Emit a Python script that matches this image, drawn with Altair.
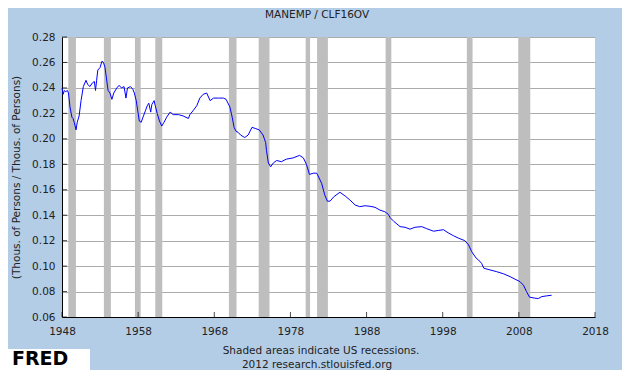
import altair as alt
import pandas as pd

years = [1948.00, 1948.15, 1948.30, 1948.50, 1948.70, 1948.85, 1949.05, 1949.30, 1949.45, 1949.60,
         1949.85, 1950.00, 1950.25, 1950.50, 1950.80, 1951.15, 1951.35, 1951.65, 1952.00, 1952.25,
         1952.40, 1952.55, 1952.70, 1953.00, 1953.25, 1953.45, 1953.65, 1953.85, 1954.05, 1954.30,
         1954.55, 1954.80, 1955.20, 1955.50, 1955.80, 1956.15, 1956.40, 1956.60, 1957.00, 1957.30,
         1957.50, 1957.75, 1957.95, 1958.15, 1958.40, 1958.70, 1958.95, 1959.20, 1959.40, 1959.65,
         1959.80, 1960.10, 1960.25, 1960.50, 1960.80, 1961.10, 1961.40, 1961.75, 1962.20, 1962.60,
         1963.30, 1963.90, 1964.60, 1964.80, 1965.20, 1965.70, 1966.10, 1966.55, 1967.00, 1967.45,
         1967.90, 1968.55, 1969.20, 1969.55, 1970.05, 1970.35, 1970.60, 1970.85, 1971.15, 1971.45,
         1972.00, 1972.45, 1972.95, 1973.45, 1973.90, 1974.40, 1974.75, 1974.85, 1975.10, 1975.40,
         1975.75, 1976.20, 1976.80, 1977.45, 1978.35, 1979.20, 1979.70, 1980.10, 1980.50, 1981.00,
         1981.45, 1981.70, 1982.10, 1982.50, 1982.85, 1983.20, 1983.70, 1984.50, 1985.20, 1985.80,
         1986.50, 1987.10, 1987.80, 1988.45, 1989.10, 1989.75, 1990.40, 1990.85, 1991.10, 1991.60,
         1992.40, 1993.05, 1993.70, 1994.35, 1995.25, 1995.90, 1996.80, 1997.40, 1998.10, 1998.70,
         1999.40, 2000.05, 2000.90, 2001.40, 2001.80, 2002.40, 2002.70, 2003.10, 2003.40, 2004.20,
         2005.10, 2006.00, 2006.85, 2007.50, 2008.15, 2008.60, 2009.00, 2009.40, 2010.10, 2010.55,
         2011.00, 2011.65, 2012.30]
values = [0.240, 0.235, 0.238, 0.237, 0.238, 0.236, 0.225, 0.217, 0.216, 0.213,
          0.207, 0.213, 0.218, 0.230, 0.241, 0.246, 0.243, 0.241, 0.244, 0.245,
          0.238, 0.246, 0.254, 0.256, 0.261, 0.260, 0.256, 0.247, 0.238, 0.236,
          0.231, 0.236, 0.240, 0.242, 0.240, 0.241, 0.232, 0.240, 0.241, 0.239,
          0.236, 0.230, 0.222, 0.214, 0.213, 0.218, 0.222, 0.226, 0.228, 0.221,
          0.227, 0.230, 0.226, 0.220, 0.214, 0.210, 0.213, 0.217, 0.221, 0.219,
          0.219, 0.218, 0.216, 0.219, 0.222, 0.226, 0.232, 0.235, 0.236, 0.230,
          0.232, 0.232, 0.232, 0.231, 0.225, 0.217, 0.209, 0.206, 0.205, 0.203,
          0.201, 0.203, 0.209, 0.208, 0.207, 0.203, 0.197, 0.191, 0.181, 0.178,
          0.181, 0.183, 0.182, 0.184, 0.185, 0.187, 0.185, 0.180, 0.172, 0.173,
          0.173, 0.170, 0.165, 0.156, 0.151, 0.151, 0.1545, 0.158, 0.155, 0.152,
          0.148, 0.1467, 0.1474, 0.147, 0.1462, 0.144, 0.1427, 0.1407, 0.138, 0.135,
          0.131, 0.1305, 0.129, 0.1305, 0.131, 0.1294, 0.1274, 0.128, 0.1286, 0.1262,
          0.1239, 0.122, 0.120, 0.1166, 0.1114, 0.1062, 0.1048, 0.1022, 0.0983, 0.097,
          0.0956, 0.0939, 0.0917, 0.0897, 0.0878, 0.085, 0.080, 0.0756, 0.0748, 0.0745,
          0.076, 0.0766, 0.0771]

rec_start = [1948.83, 1953.50, 1957.58, 1960.25, 1969.92, 1973.83, 1980.00, 1981.50, 1990.50, 2001.17, 2007.92]
rec_end = [1949.83, 1954.42, 1958.33, 1961.17, 1970.92, 1975.25, 1980.58, 1982.92, 1991.25, 2001.92, 2009.50]

x_ticks = [1948, 1958, 1968, 1978, 1988, 1998, 2008, 2018]
y_ticks = [0.06, 0.08, 0.10, 0.12, 0.14, 0.16, 0.18, 0.20, 0.22, 0.24, 0.26, 0.28]

FONT = "DejaVu Sans"
TXT = "#222222"
W, H = 533, 280

df = pd.DataFrame({"year": years, "value": values})
rec = pd.DataFrame({"start": rec_start, "end": rec_end})
xt = pd.DataFrame({"year": x_ticks})
yt = pd.DataFrame({"value": y_ticks})

xscale = alt.Scale(domain=[1948, 2018], nice=False, zero=False)
yscale = alt.Scale(domain=[0.06, 0.28], nice=False, zero=False)

xaxis = alt.Axis(values=x_ticks, format="d", title=None, grid=False, tickSize=0,
                 domainColor="black", domainWidth=1, labelFont=FONT, labelFontSize=10.5,
                 labelColor=TXT, labelPadding=9, labelFlush=False, labelOverlap=False)
yaxis = alt.Axis(values=y_ticks, format=".2f", title="(Thous. of Persons / Thous. of Persons)",
                 grid=True, gridColor="#ABABAB", gridWidth=1, tickSize=0,
                 domainColor="black", domainWidth=1, labelFont=FONT, labelFontSize=10.5,
                 labelColor=TXT, labelPadding=7, labelOverlap=False, labelFlush=False,
                 titleFont=FONT, titleFontSize=10.5,
                 titleFontWeight="normal", titleColor=TXT, titlePadding=10)

bars = alt.Chart(rec).mark_rect(color="#BEBEBE").encode(
    x=alt.X("start:Q", scale=xscale, axis=xaxis),
    x2="end:Q",
)

line = alt.Chart(df).mark_line(color="#0000FF", strokeWidth=1).encode(
    x=alt.X("year:Q", scale=xscale, axis=xaxis),
    y=alt.Y("value:Q", scale=yscale, axis=yaxis),
)

xtick_marks = alt.Chart(xt).mark_tick(color="black", thickness=1, size=5, orient="vertical").encode(
    x=alt.X("year:Q", scale=xscale, axis=xaxis),
    y=alt.value(H - 2.5),
)
ytick_marks = alt.Chart(yt).mark_tick(color="black", thickness=1, size=5, orient="horizontal").encode(
    y=alt.Y("value:Q", scale=yscale, axis=yaxis),
    x=alt.value(2.5),
)

one = pd.DataFrame({"a": [0]})
title_text = alt.Chart(one).mark_text(font=FONT, fontSize=10.5, color=TXT, baseline="middle",
                                      align="center", text="MANEMP / CLF16OV").encode(
    x=alt.value(255), y=alt.value(-22))
note1 = alt.Chart(one).mark_text(font=FONT, fontSize=10.5, color=TXT, baseline="middle",
                                 align="center", text="Shaded areas indicate US recessions.").encode(
    x=alt.value(259), y=alt.value(314))
note2 = alt.Chart(one).mark_text(font=FONT, fontSize=10.5, color=TXT, baseline="middle",
                                 align="center", text="2012 research.stlouisfed.org").encode(
    x=alt.value(255), y=alt.value(328))

logo_box = alt.Chart(one).mark_rect(color="white").encode(
    x=alt.value(-54), x2=alt.value(28), y=alt.value(312), y2=alt.value(333))
logo_text = alt.Chart(one).mark_text(
    font=FONT, fontSize=19, fontWeight="bold", color="black", align="left", baseline="middle",
    text="FRED").encode(x=alt.value(-50), y=alt.value(322))

chart = alt.layer(bars, line, xtick_marks, ytick_marks, title_text, note1, note2,
                  logo_box, logo_text).properties(
    width=W, height=H,
    padding={"left": 54, "top": 29, "right": 27, "bottom": 53},
    autosize=alt.AutoSizeParams(type="none"),
    background="#B4CDE6",
).configure_view(fill="white", stroke=None)

chart.save("out.html", embed_options={"renderer": "svg", "actions": False})
